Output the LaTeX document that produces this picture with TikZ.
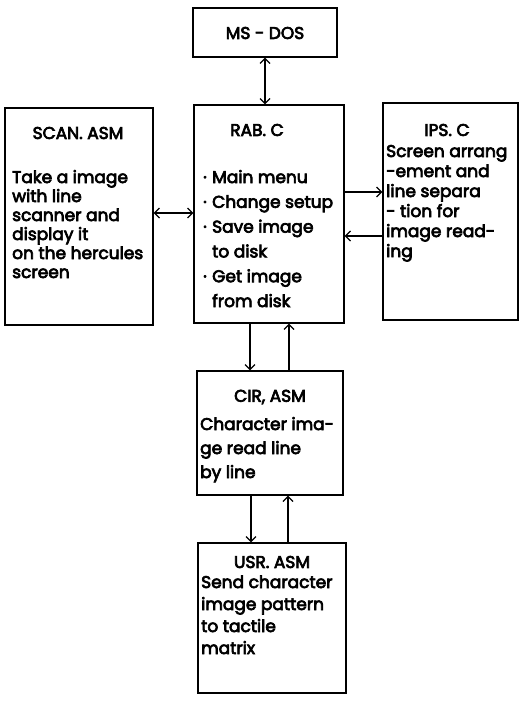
\documentclass[tikz,border=0pt]{standalone}
\usepackage{fontspec}
\setmainfont{Poppins}[FakeBold=4]
\usetikzlibrary{arrows.meta}

\tikzset{
  modbox/.style={draw, line width=1.3pt, rectangle, inner sep=0pt},
  title/.style={font=\fontsize{17}{20}\selectfont, inner sep=0pt},
  % anchored at the baseline of the last line of the description
  body/.style={font=\fontsize{17}{20}\selectfont, align=left, inner sep=0pt, anchor=base west},
  flow/.style={line width=1.2pt, >={Straight Barb[length=5pt,width=10pt,line width=1.2pt]}}
}

\begin{document}
\begin{tikzpicture}[x=1pt,y=-1pt]
\useasboundingbox (0,0) rectangle (520,704);

% module boxes
\node[modbox, minimum width=144pt, minimum height=49pt]  (ms)   at (265,32.5)  {};
\node[modbox, minimum width=148pt, minimum height=217pt] (scan) at (79,216.5)  {};
\node[modbox, minimum width=150pt, minimum height=218pt] (rab)  at (269,214)   {};
\node[modbox, minimum width=135pt, minimum height=217pt] (ips)  at (450.5,211.5) {};
\node[modbox, minimum width=146pt, minimum height=124pt] (cir)  at (270,433)   {};
\node[modbox, minimum width=148pt, minimum height=150pt] (usr)  at (272,618)   {};

% titles
\node[title] (msT)   at (265,33)  {MS - DOS};
\node[title] (scanT) at (78,133)  {SCAN. ASM};
\node[title] (rabT)  at (257,130) {RAB. C};
\node[title] (ipsT)  at (447,130) {IPS. C};
\node[title] (cirT)  at (270,397) {CIR, ASM};
\node[title] (usrT)  at (272,562) {USR. ASM};

% descriptions
\node[body, font=\fontsize{17}{19}\selectfont] (scanB) at (12,278)
  {Take a image\\with line\\scanner and\\display it\\on the hercules\\screen};
\node[body, font=\fontsize{17}{24.8}\selectfont] (rabB) at (203,307)
  {\makebox[9pt][l]{·}Main menu\\
   \makebox[9pt][l]{·}Change setup\\
   \makebox[9pt][l]{·}Save image\\
   \makebox[9pt][l]{}to disk\\
   \makebox[9pt][l]{·}Get image\\
   \makebox[9pt][l]{}from disk};
\node[body, font=\fontsize{17}{20}\selectfont] (ipsB) at (386,257)
  {Screen arrang\\-ement and\\line separa\\- tion for\\image read-\\ing};
\node[body, font=\fontsize{17}{24}\selectfont] (cirB) at (200,478)
  {Character ima-\\ge read line\\by line};
\node[body, font=\fontsize{17}{22}\selectfont] (usrB) at (201,654)
  {Send character\\image pattern\\to tactile\\matrix};

% connections
\draw[flow, <->] (ms.south) -- (ms.south |- rab.north);
\draw[flow, <->] ([yshift=3.5pt]scan.east) -- ([yshift=3.5pt]scan.east -| rab.west);
\draw[flow, ->]  ([yshift=22pt]rab.east) -- ([yshift=22pt]rab.east -| ips.west);
\draw[flow, ->]  ([yshift=-22pt]rab.east -| ips.west) -- ([yshift=-22pt]rab.east);
\draw[flow, ->]  ([xshift=-19pt]rab.south) -- ([xshift=-19pt]rab.south |- cir.north);
\draw[flow, ->]  ([xshift=20pt]rab.south |- cir.north) -- ([xshift=20pt]rab.south);
\draw[flow, ->]  ([xshift=-19pt]cir.south) -- ([xshift=-19pt]cir.south |- usr.north);
\draw[flow, ->]  ([xshift=18pt]cir.south |- usr.north) -- ([xshift=18pt]cir.south);
\end{tikzpicture}
\end{document}
